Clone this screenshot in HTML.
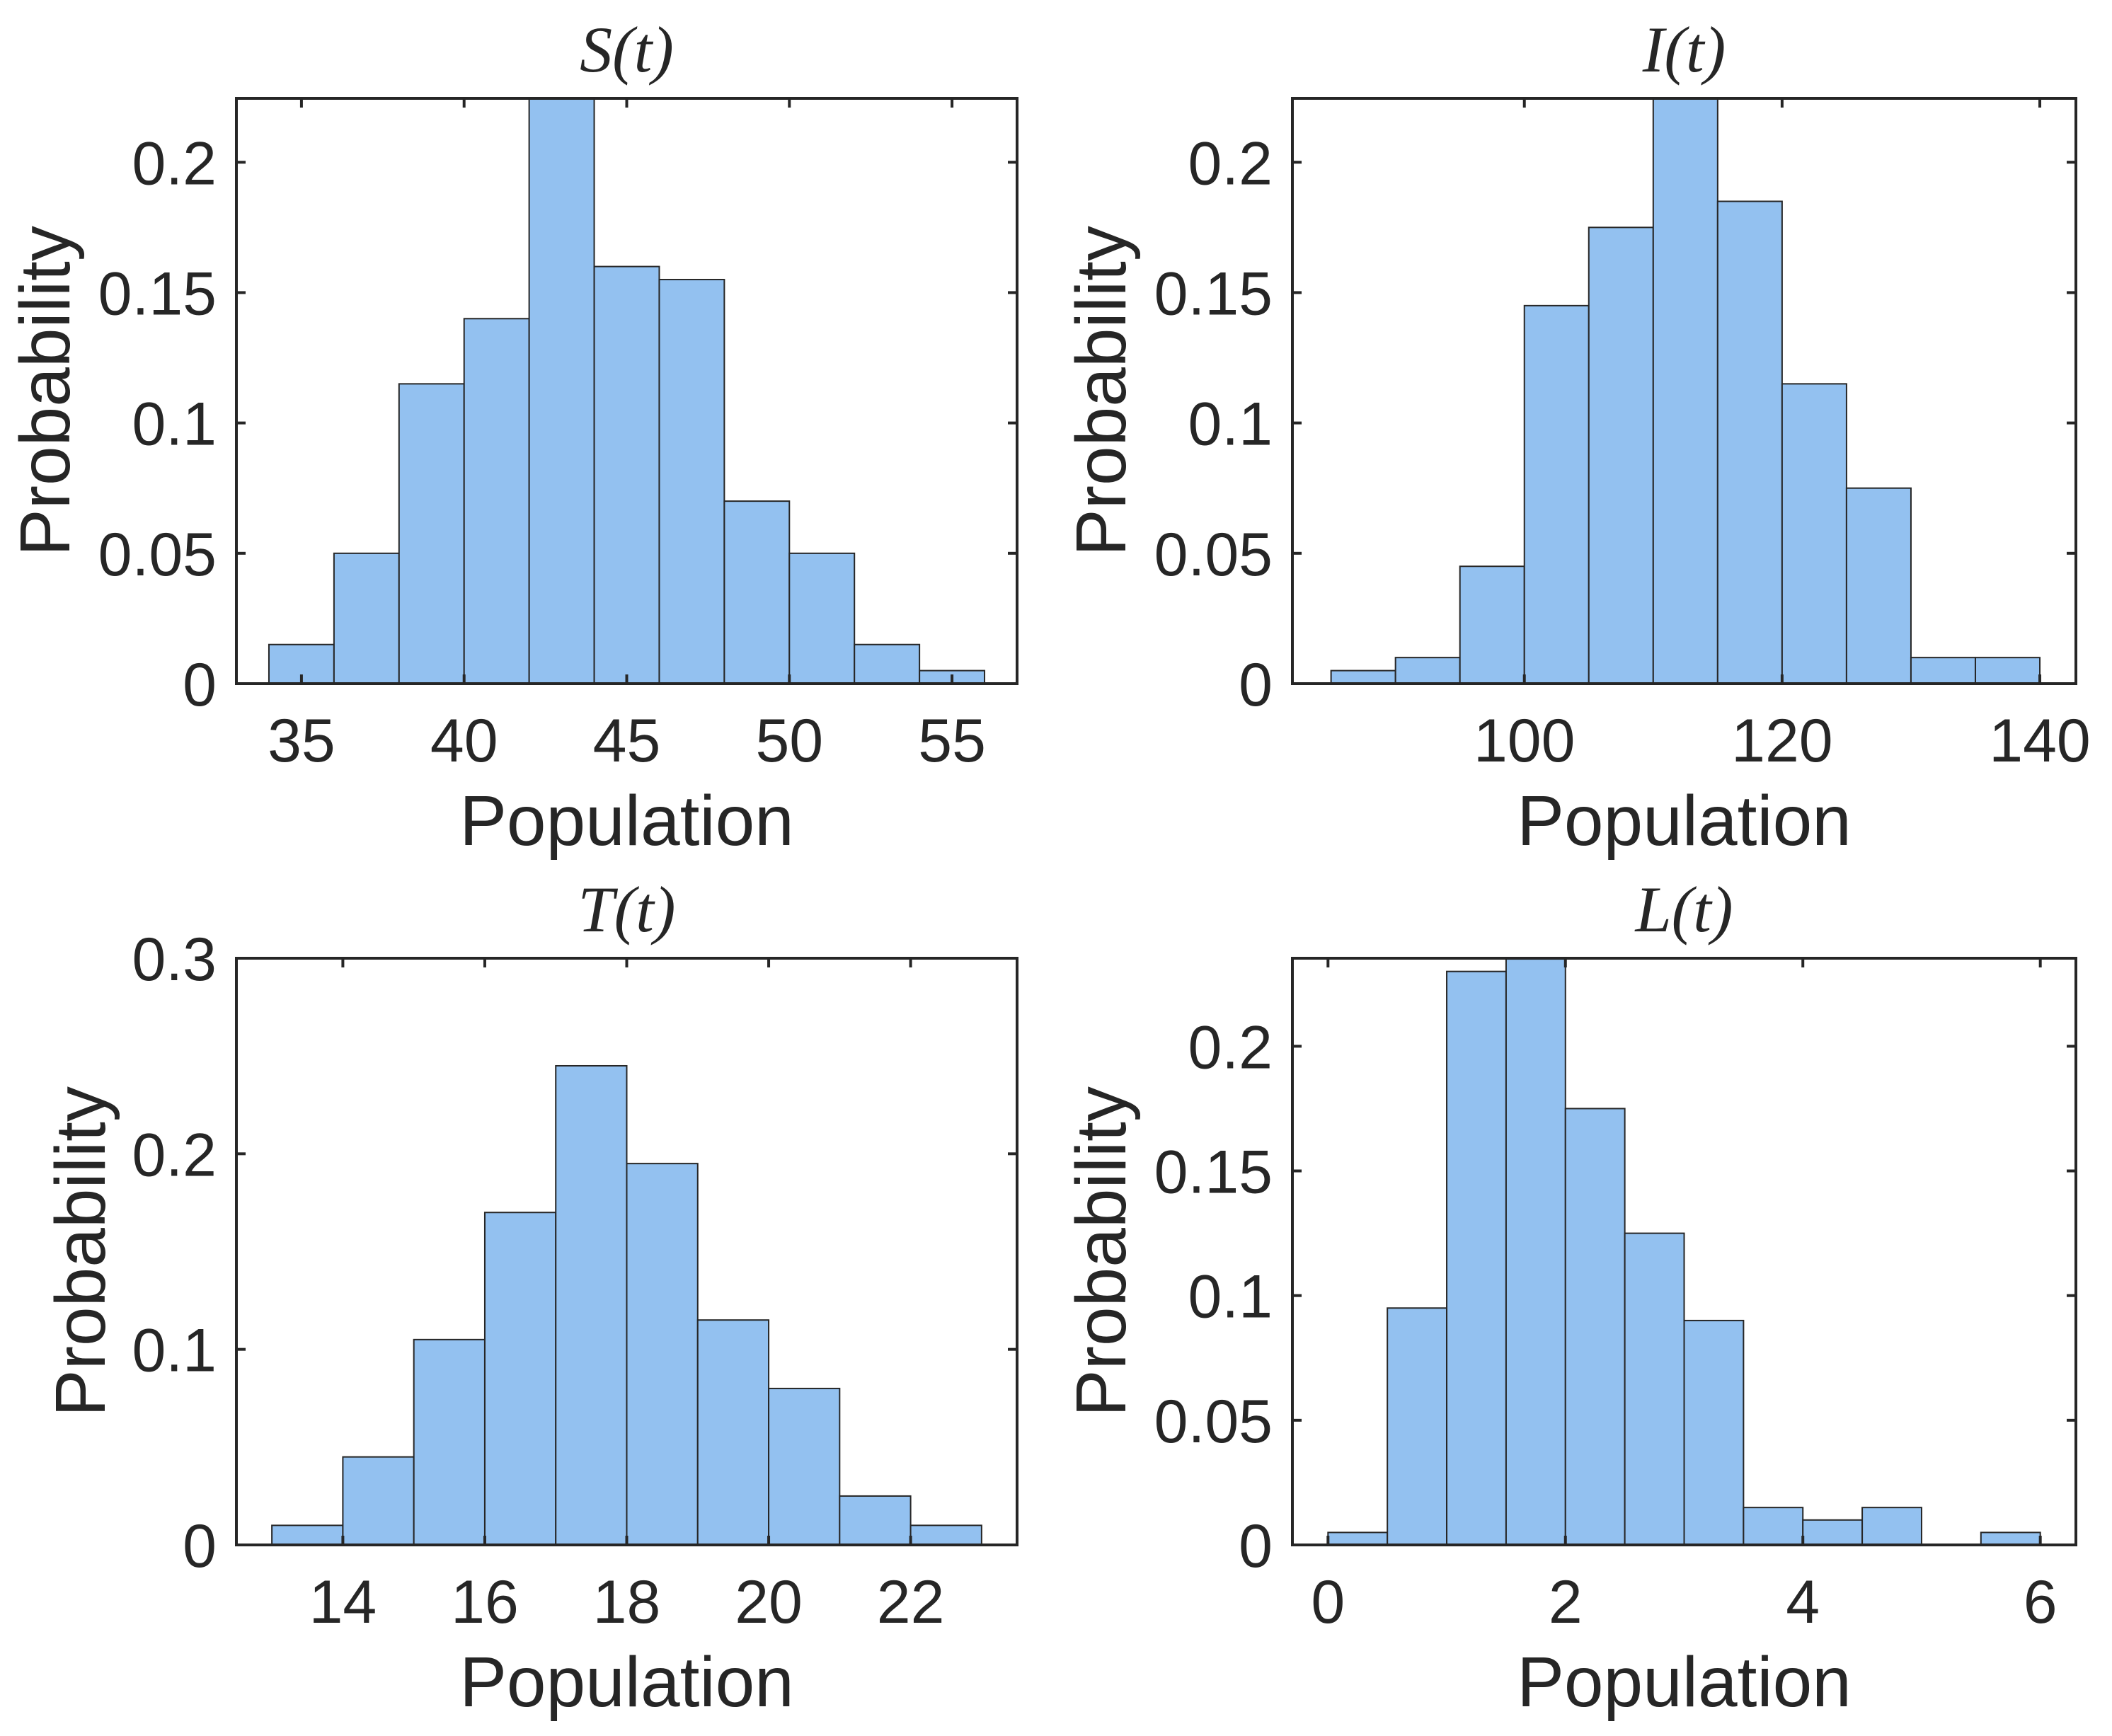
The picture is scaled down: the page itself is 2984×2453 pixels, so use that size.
<!DOCTYPE html>
<html><head><meta charset="utf-8"><style>
html,body{margin:0;padding:0;background:#fff}
svg{display:block}
text{font-family:"Liberation Sans",sans-serif;fill:#262626}
text.ttl{font-family:"Liberation Serif",serif;font-style:italic}
</style></head><body>
<svg id="fig" width="2984" height="2453" viewBox="0 0 2984 2453" xmlns="http://www.w3.org/2000/svg"></svg>
<script>
// Panel S(t)
const sEdges = [34,36,38,40,42,44,46,48,50,52,54,56];
const sValues = [0.015,0.05,0.115,0.14,0.225,0.16,0.155,0.07,0.05,0.015,0.005];
const sXTicks = [35,40,45,50,55];
const sYTicks = [0,0.05,0.1,0.15,0.2];
const sYTickLabels = ["0","0.05","0.1","0.15","0.2"];
// Panel I(t)
const iEdges = [85,90,95,100,105,110,115,120,125,130,135,140];
const iValues = [0.005,0.01,0.045,0.145,0.175,0.225,0.185,0.115,0.075,0.01,0.01];
const iXTicks = [100,120,140];
const iYTicks = [0,0.05,0.1,0.15,0.2];
const iYTickLabels = ["0","0.05","0.1","0.15","0.2"];
// Panel T(t)
const tEdges = [13,14,15,16,17,18,19,20,21,22,23];
const tValues = [0.01,0.045,0.105,0.17,0.245,0.195,0.115,0.08,0.025,0.01];
const tXTicks = [14,16,18,20,22];
const tYTicks = [0,0.1,0.2,0.3];
const tYTickLabels = ["0","0.1","0.2","0.3"];
// Panel L(t)
const lEdges = [0,0.5,1,1.5,2,2.5,3,3.5,4,4.5,5,5.5,6];
const lValues = [0.005,0.095,0.23,0.235,0.175,0.125,0.09,0.015,0.01,0.015,0,0.005];
const lXTicks = [0,2,4,6];
const lYTicks = [0,0.05,0.1,0.15,0.2];
const lYTickLabels = ["0","0.05","0.1","0.15","0.2"];

const NS="http://www.w3.org/2000/svg";
const svg=document.getElementById('fig');
function mk(tag,attrs,parent){const e=document.createElementNS(NS,tag);for(const k in attrs)e.setAttribute(k,attrs[k]);(parent||svg).appendChild(e);return e;}

function panel(cfg){
  const g=mk('g',{});
  
  
  const L=cfg.box[0],R=cfg.box[1],T=cfg.box[2],B=cfg.box[3];
  const sx=v=>L+(v-cfg.xlim[0])/(cfg.xlim[1]-cfg.xlim[0])*(R-L);
  const sy=v=>B-(v-cfg.ylim[0])/(cfg.ylim[1]-cfg.ylim[0])*(B-T);
  const clip='clip-'+cfg.name;
  const cp=mk('clipPath',{id:clip},g);mk('rect',{x:L,y:T,width:R-L,height:B-T},cp);
  const bars=mk('g',{'clip-path':'url(#'+clip+')'},g);
  for(let i=0;i<cfg.values.length;i++){
    if(cfg.values[i]<=0)continue;
    const x0=sx(cfg.edges[i]),x1=sx(cfg.edges[i+1]),y=sy(cfg.values[i]);
    const r=mk('rect',{x:x0,y:y,width:x1-x0,height:B-y,fill:'#93c1f0',stroke:'#262626','stroke-width':2},bars);
    
    
  }
  cfg.xticks.forEach(v=>{
    const x=sx(v);
    mk('line',{x1:x,x2:x,y1:B,y2:B-13,stroke:'#262626','stroke-width':4},g);
    mk('line',{x1:x,x2:x,y1:T,y2:T+13,stroke:'#262626','stroke-width':4},g);
    const t=mk('text',{x:x,y:B+110,'font-size':86,'text-anchor':'middle'},g);
    t.textContent=String(v);
    
    
  });
  cfg.yticks.forEach((v,i)=>{
    const y=sy(v);
    mk('line',{x1:L,x2:L+13,y1:y,y2:y,stroke:'#262626','stroke-width':4},g);
    mk('line',{x1:R,x2:R-13,y1:y,y2:y,stroke:'#262626','stroke-width':4},g);
    const t=mk('text',{x:L-28,y:y+31,'font-size':86,'text-anchor':'end'},g);
    t.textContent=cfg.ylabels[i];
    
    
  });
  const box=mk('rect',{x:L,y:T,width:R-L,height:B-T,fill:'none',stroke:'#262626','stroke-width':4},g);
  
  
  const xl=mk('text',{x:(L+R)/2,y:B+228,'font-size':100,'text-anchor':'middle'},g);
  xl.textContent='Population';
  
  
  const cy=(T+B)/2;
  const yl=mk('text',{x:0,y:0,'font-size':100,'text-anchor':'middle',transform:'translate('+(cfg.ylx)+','+(cy)+') rotate(-90)'},g);
  yl.textContent='Probability';
  
  
  const tt=mk('text',{x:(L+R)/2,y:T-38,'font-size':92,'text-anchor':'middle','class':'ttl'},g);
  tt.textContent=cfg.title;
  
  
}
panel({name:'panel-s',box:[334,1437,139,966],xlim:[33,57],ylim:[0,0.2245],edges:sEdges,values:sValues,xticks:sXTicks,yticks:sYTicks,ylabels:sYTickLabels,title:'S(t)',ylx:98});
panel({name:'panel-i',box:[1826,2933,139,966],xlim:[82,142.8],ylim:[0,0.2245],edges:iEdges,values:iValues,xticks:iXTicks,yticks:iYTicks,ylabels:iYTickLabels,title:'I(t)',ylx:1590});
panel({name:'panel-t',box:[334,1437,1354,2183],xlim:[12.5,23.5],ylim:[0,0.3],edges:tEdges,values:tValues,xticks:tXTicks,yticks:tYTicks,ylabels:tYTickLabels,title:'T(t)',ylx:148});
panel({name:'panel-l',box:[1826,2933,1354,2183],xlim:[-0.3,6.3],ylim:[0,0.2353],edges:lEdges,values:lValues,xticks:lXTicks,yticks:lYTicks,ylabels:lYTickLabels,title:'L(t)',ylx:1590});
</script>
</body></html>
